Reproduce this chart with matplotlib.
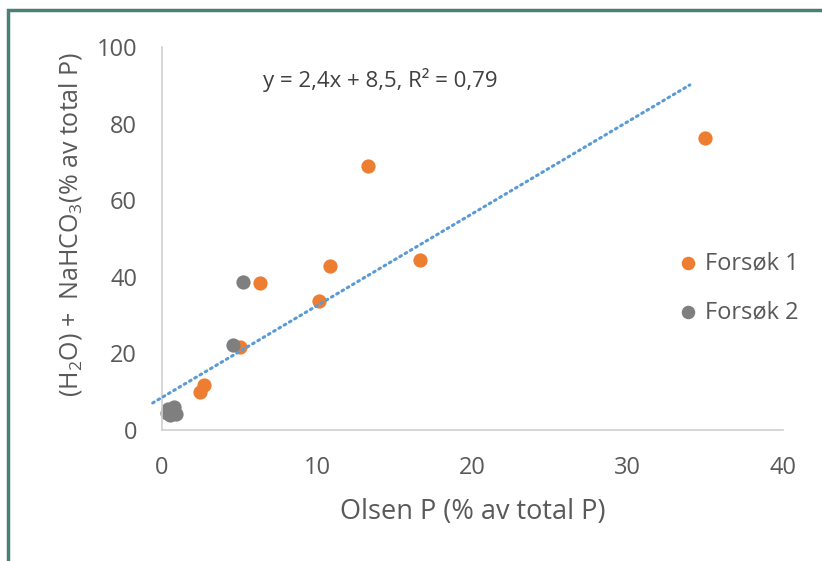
import matplotlib
matplotlib.use("Agg")
import matplotlib.pyplot as plt
from matplotlib.patches import Rectangle
import numpy as np

plt.rcParams['font.family'] = ['Open Sans', 'DejaVu Sans']
plt.rcParams['mathtext.fontset'] = 'custom'
plt.rcParams['mathtext.rm'] = 'Open Sans'
plt.rcParams['mathtext.it'] = 'Open Sans'
plt.rcParams['mathtext.default'] = 'regular'

# Data
f1_x = [35.0, 13.3, 10.8, 16.6, 10.1, 6.3, 5.0, 2.7, 2.45]
f1_y = [76.3, 69.0, 42.8, 44.4, 33.7, 38.3, 21.7, 11.7, 9.9]
f2_x = [5.2, 4.6, 0.4, 0.8, 0.5, 0.9, 0.6, 0.3]
f2_y = [38.6, 22.2, 5.5, 6.0, 3.8, 4.2, 4.8, 4.5]

slope = 2.4
intercept = 8.5
r2 = 0.79
trend_x = [-0.6, 34.0]

series_labels = ["Forsøk 1", "Forsøk 2"]
x_ticks = [0, 10, 20, 30, 40]
y_ticks = [0, 20, 40, 60, 80, 100]

orange = "#ED7D31"
gray = "#7F7F7F"
blue = "#5B9BD5"
txt = "#595959"

W, H = 822, 561
fig = plt.figure(figsize=(W/100, H/100), dpi=100)
ax = fig.add_axes([162/W, 1-430/H, (783-162)/W, (430-47)/H])

tx = np.array(trend_x)
ax.plot(tx, slope*tx + intercept, linestyle=(0, (0.6, 1.4)), color=blue, lw=2.2,
        dash_capstyle='round', zorder=3, clip_on=False)

ax.scatter(f1_x, f1_y, s=105, color=orange, label=series_labels[0], zorder=2, clip_on=False, linewidths=0)
ax.scatter(f2_x, f2_y, s=105, color=gray, label=series_labels[1], zorder=2, clip_on=False, linewidths=0)

ax.set_xlim(0, 40)
ax.set_ylim(0, 100)
ax.set_xticks(x_ticks)
ax.set_yticks(y_ticks)
ax.tick_params(length=0, labelsize=17, labelcolor=txt)
ax.tick_params(axis='x', pad=19)
ax.tick_params(axis='y', pad=18)
for s in ['top', 'right']:
    ax.spines[s].set_visible(False)
for s in ['left', 'bottom']:
    ax.spines[s].set_color("#D0D0D0")
    ax.spines[s].set_linewidth(1.2)

ax.set_xlabel("Olsen P (% av total P)", fontsize=19.5, color=txt, va='center')
ax.xaxis.set_label_coords(0.5, -(512-430)/383)
ax.set_ylabel(r"(H$_2$O) +  NaHCO$_3$(% av total P)", fontsize=18, color=txt, va='center')
ax.yaxis.set_label_coords(-(162-70)/621, (430-224)/383)

fig.text(263/W, 1-80/H, f"y = {slope:g}x + {intercept:g}, R² = {r2:g}".replace('.', ','),
         fontsize=16, color="#404040", va='center', ha='left')

leg = ax.legend(loc='upper left', bbox_to_anchor=((679-162)/621, (430-251)/383),
                frameon=False, fontsize=17, labelcolor=txt, handletextpad=0.3,
                handlelength=0.8, labelspacing=1.07, borderaxespad=0, borderpad=0,
                markerscale=0.95)

fig.patches.append(Rectangle((8/W, -0.2), 1.2, 1.2-10/H, transform=fig.transFigure,
                             fill=False, edgecolor="#4A7F74", linewidth=2.5))

fig.savefig("out.png", dpi=100)
